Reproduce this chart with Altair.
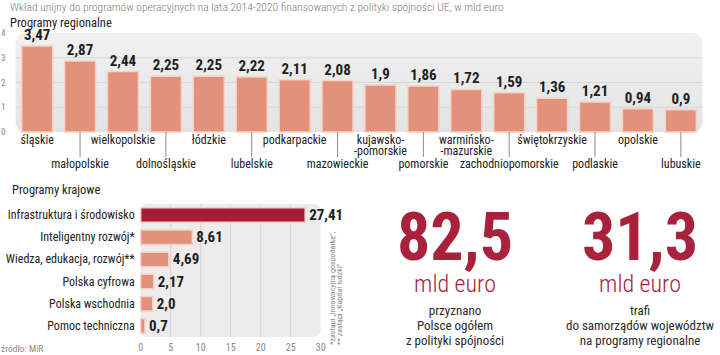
import altair as alt
import pandas as pd

FONT = "Roboto Condensed"

# ---------------- data ----------------
regions = ["śląskie", "małopolskie", "wielkopolskie", "dolnośląskie", "łódzkie",
           "lubelskie", "podkarpackie", "mazowieckie", "kujawsko-\n-pomorskie",
           "pomorskie", "warmińsko-\n-mazurskie", "zachodniopomorskie",
           "świętokrzyskie", "podlaskie", "opolskie", "lubuskie"]
region_values = [3.47, 2.87, 2.44, 2.25, 2.25, 2.22, 2.11, 2.08, 1.9, 1.86,
                 1.72, 1.59, 1.36, 1.21, 0.94, 0.9]
region_labels = ["3,47", "2,87", "2,44", "2,25", "2,25", "2,22", "2,11", "2,08",
                 "1,9", "1,86", "1,72", "1,59", "1,36", "1,21", "0,94", "0,9"]
top_ticks = [0, 1, 2, 3, 4]
top_grid = [1, 2, 3]

programs = ["Infrastruktura i środowisko", "Inteligentny rozwój*",
            "Wiedza, edukacja, rozwój**", "Polska cyfrowa", "Polska wschodnia",
            "Pomoc techniczna"]
program_values = [27.41, 8.61, 4.69, 2.17, 2.0, 0.7]
program_labels = ["27,41", "8,61", "4,69", "2,17", "2,0", "0,7"]
program_kind = ["main", "other", "other", "other", "other", "other"]
bottom_ticks = [0, 5, 10, 15, 20, 25, 30]
bottom_grid = [5, 10, 15, 20, 25]

SALMON = "#e3917b"
DARKRED = "#a61d35"
BIGRED = "#a8223b"

top_df = pd.DataFrame({
    "idx": list(range(len(regions))),
    "region": regions,
    "value": region_values,
    "label": region_labels,
    "row": [i % 2 for i in range(len(regions))],
})
bot_df = pd.DataFrame({
    "idx": list(range(len(programs))),
    "program": programs,
    "value": program_values,
    "label": program_labels,
    "kind": program_kind,
})

# ---------------- top panel ----------------
xs_top = alt.Scale(domain=[-0.5, 15.5], range=[10.7, 707.3], nice=False, zero=False)
ys_top = alt.Scale(domain=[0, 4], range=[132, 33], nice=False, zero=False)

top_bg = alt.Chart(pd.DataFrame({"a": [-0.5], "b": [15.5], "c": [0], "d": [4]})).mark_rect(
    cornerRadius=9,
    fill=alt.Gradient(gradient="linear", x1=0, x2=0, y1=0, y2=1,
                      stops=[alt.GradientStop(color="#f1f1f1", offset=0),
                             alt.GradientStop(color="#e3e3e3", offset=1)])
).encode(
    x=alt.X("a:Q", scale=xs_top, axis=None), x2="b:Q",
    y=alt.Y("c:Q", scale=ys_top, axis=None), y2="d:Q",
)

top_gridlines = alt.Chart(pd.DataFrame({"g": top_grid})).mark_rule(
    color="#d7d7d7", strokeWidth=1
).encode(
    y=alt.Y("g:Q", scale=ys_top, axis=None),
    x=alt.X(datum=-0.5, scale=xs_top, axis=None), x2=alt.X2(datum=15.5),
)

top_tick_labels = alt.Chart(pd.DataFrame({"t": top_ticks})).mark_text(
    font=FONT, fontSize=9, color="#888888", align="left", baseline="middle"
).encode(
    y=alt.Y("t:Q", scale=ys_top, axis=None),
    x=alt.value(1),
    text="t:Q",
)

top_bars = alt.Chart(top_df).mark_bar(
    width=31, orient="vertical", color=SALMON, stroke="#f4d2c6", strokeWidth=1.5
).encode(
    x=alt.X("idx:Q", scale=xs_top, axis=None),
    y=alt.Y("value:Q", scale=ys_top, axis=None),
    y2=alt.Y2(datum=0),
)

top_values = alt.Chart(top_df).mark_text(
    font=FONT, fontSize=15, fontWeight="bold", color="#1e1e1e", baseline="bottom", dy=-3
).encode(
    x=alt.X("idx:Q", scale=xs_top, axis=None),
    y=alt.Y("value:Q", scale=ys_top, axis=None),
    text="label:N",
)

top_names_up = alt.Chart(top_df).transform_filter("datum.row == 0").mark_text(
    font=FONT, fontSize=12, color="#222222", baseline="top", dy=3,
    lineBreak="\n", lineHeight=10.5
).encode(
    x=alt.X("idx:Q", scale=xs_top, axis=None),
    y=alt.Y(datum=0, scale=ys_top, axis=None),
    text="region:N",
)

top_names_down = alt.Chart(top_df).transform_filter("datum.row == 1").mark_text(
    font=FONT, fontSize=12, color="#222222", baseline="top", dy=27
).encode(
    x=alt.X("idx:Q", scale=xs_top, axis=None),
    y=alt.Y(datum=0, scale=ys_top, axis=None),
    text="region:N",
)

top_leaders = alt.Chart(top_df).transform_filter("datum.row == 1").mark_rule(
    color="#8c8c8c", strokeWidth=1
).encode(
    x=alt.X("idx:Q", scale=xs_top, axis=None),
    y=alt.Y(datum=0, scale=ys_top, axis=None),
    y2=alt.value(157),
)

top = alt.layer(top_bg, top_gridlines, top_tick_labels, top_bars, top_values,
                top_leaders, top_names_up, top_names_down)

# ---------------- bottom panel ----------------
xs_bot = alt.Scale(domain=[0, 30], range=[140.7, 320.7], nice=False, zero=False)
ys_bot = alt.Scale(domain=[-0.5, 5.5], range=[199, 342], nice=False, zero=False)

bot_bg = alt.Chart(pd.DataFrame({"a": [0], "b": [30], "c": [-0.5], "d": [5.5]})).mark_rect(
    cornerRadius=7, fill="#ececec"
).encode(
    x=alt.X("a:Q", scale=xs_bot, axis=None), x2="b:Q",
    y=alt.Y("c:Q", scale=ys_bot, axis=None), y2="d:Q",
)

bot_gridlines = alt.Chart(pd.DataFrame({"g": bottom_grid})).mark_rule(
    color="#d4d4d4", strokeWidth=1
).encode(
    x=alt.X("g:Q", scale=xs_bot, axis=None),
    y=alt.Y(datum=-0.5, scale=ys_bot, axis=None), y2=alt.Y2(datum=5.5),
)

bot_tick_labels = alt.Chart(pd.DataFrame({"t": bottom_ticks})).mark_text(
    font=FONT, fontSize=10, color="#8a8a8a", baseline="middle", dy=11
).encode(
    x=alt.X("t:Q", scale=xs_bot, axis=None),
    y=alt.Y(datum=5.5, scale=ys_bot, axis=None),
    text="t:Q",
)

bot_bars = alt.Chart(bot_df).mark_bar(
    height=14.5, orient="horizontal", stroke="#f4d2c6", strokeWidth=1.5
).encode(
    x=alt.X("value:Q", scale=xs_bot, axis=None),
    x2=alt.X2(datum=0),
    y=alt.Y("idx:Q", scale=ys_bot, axis=None),
    color=alt.Color("kind:N", scale=alt.Scale(domain=["main", "other"],
                                              range=[DARKRED, SALMON]), legend=None),
)

bot_values = alt.Chart(bot_df).mark_text(
    font=FONT, fontSize=15, fontWeight="bold", color="#1e1e1e", align="left",
    baseline="middle", dx=4
).encode(
    x=alt.X("value:Q", scale=xs_bot, axis=None),
    y=alt.Y("idx:Q", scale=ys_bot, axis=None),
    text="label:N",
)

bot_names = alt.Chart(bot_df).mark_text(
    font=FONT, fontSize=12, color="#222222", align="right", baseline="middle", dx=-6
).encode(
    x=alt.X(datum=0, scale=xs_bot, axis=None),
    y=alt.Y("idx:Q", scale=ys_bot, axis=None),
    text="program:N",
)

bottom = alt.layer(bot_bg, bot_gridlines, bot_tick_labels, bot_bars, bot_values, bot_names)


# ---------------- annotations ----------------
def txt(text, x, y, size, color="#222222", weight="normal", align="left",
        baseline="alphabetic", angle=0, line_height=None, font=FONT):
    kw = dict(font=font, fontSize=size, color=color, fontWeight=weight, align=align,
              baseline=baseline, lineBreak="\n")
    if angle:
        kw["angle"] = angle
    if line_height:
        kw["lineHeight"] = line_height
    return alt.Chart(pd.DataFrame({"t": [text]})).mark_text(**kw).encode(
        x=alt.value(x), y=alt.value(y), text="t:N")


notes = [
    txt("Wkład unijny do programów operacyjnych na lata 2014-2020 finansowanych z polityki spójności UE, w mld euro",
        10, 11, 11.5, color="#7a7a7a", weight=300),
    txt("Programy regionalne", 10, 27, 12.5, color="#222222"),
    txt("Programy krajowe", 12, 194, 12.5, color="#222222"),
    txt("źródło: MiR", 1, 352, 9.5, color="#8a8a8a"),
    txt("*zastąpi „Innowacyjną gospodarkę”,\n** zastąpi „Kapitał ludzki”", 333, 345, 8,
        color="#8a8a8a", angle=270, baseline="middle", line_height=6.5),
    txt("82,5", 455, 260, 66, color=BIGRED, weight="bold", align="center"),
    txt("mld euro", 455, 292, 24, color=BIGRED, weight=300, align="center"),
    txt("przyznano\nPolsce ogółem\nz polityki spójności", 455, 314.5, 13,
        color="#2a2a2a", align="center", line_height=15),
    txt("31,3", 640, 260, 66, color=BIGRED, weight="bold", align="center"),
    txt("mld euro", 640, 292, 24, color=BIGRED, weight=300, align="center"),
    txt("trafi\ndo samorządów województw\nna programy regionalne", 640, 314.5, 13,
        color="#2a2a2a", align="center", line_height=15),
]

chart = alt.layer(top, bottom, *notes).resolve_scale(
    x="independent", y="independent", color="independent"
).properties(
    width=720, height=355, padding=0, autosize=alt.AutoSizeParams(type="none"),
    background="white"
).configure_view(stroke=None)

chart.save("out.html", embed_options={"renderer": "svg", "actions": False})
